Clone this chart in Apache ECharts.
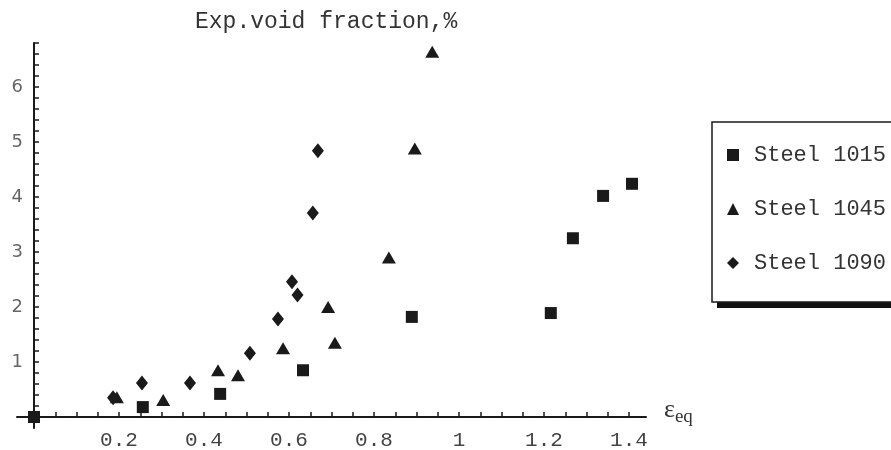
<!DOCTYPE html>
<html lang="en">

<head>
    <meta charset="UTF-8">
    <title>Exp. void fraction</title>
    <style>
        html, body { margin: 0; padding: 0; background: #fff; }
        .box { width: 891px; height: 450px; }
    </style>
    <script src="https://cdn.jsdelivr.net/npm/echarts@6/dist/echarts.min.js"></script>
</head>

<body>
    <div class="box"></div>
    <script>
        // data
        var steel1015X = [0, 0.256, 0.438, 0.633, 0.889, 1.216, 1.268, 1.339, 1.407];
        var steel1015Y = [0, 0.18, 0.42, 0.85, 1.82, 1.89, 3.25, 4.02, 4.24];
        var steel1045X = [0.195, 0.304, 0.433, 0.48, 0.586, 0.692, 0.708, 0.835, 0.896, 0.937];
        var steel1045Y = [0.36, 0.31, 0.85, 0.76, 1.25, 2.0, 1.35, 2.9, 4.88, 6.64];
        var steel1090X = [0.186, 0.254, 0.367, 0.508, 0.574, 0.607, 0.62, 0.656, 0.668];
        var steel1090Y = [0.35, 0.62, 0.62, 1.16, 1.78, 2.46, 2.22, 3.71, 4.84];

        var xLabels = [0.2, 0.4, 0.6, 0.8, 1, 1.2, 1.4];
        var yLabels = [1, 2, 3, 4, 5, 6];

        var mono = 'Liberation Mono';
        var ink = '#1a1a1a';

        function pairs(xs, ys) {
            return xs.map(function (x, i) { return [x, ys[i]]; });
        }

        // minor ticks
        var xTicks = [];
        for (var i = 1; i <= 28; i++) xTicks.push(Math.round(i * 5) / 100);
        var yTicks = [];
        for (var j = 1; j <= 34; j++) yTicks.push(Math.round(j * 2) / 10);

        var chart = echarts.init(document.querySelector('.box'));

        var option = {
            animation: false,
            title: {
                text: 'Exp.void fraction,%',
                left: 190,
                top: 5,
                textStyle: { fontFamily: mono, fontSize: 23, fontWeight: 'normal', color: '#333' }
            },
            // legend frame with its drop shadow
            graphic: [{
                type: 'rect',
                z: -1,
                shape: { x: 717, y: 128, width: 200, height: 180 },
                style: { fill: '#111' }
            }, {
                type: 'rect',
                z: -1,
                shape: { x: 712, y: 122, width: 200, height: 180 },
                style: { fill: '#fff', stroke: ink, lineWidth: 1.5 }
            }],
            legend: {
                orient: 'vertical',
                left: 712,
                top: 122,
                padding: [21, 40, 27, 15],
                itemWidth: 12,
                itemHeight: 12,
                itemGap: 30,
                textStyle: { fontFamily: mono, fontSize: 22, color: '#333', lineHeight: 24, padding: [0, 0, 0, 10] },
                data: ['Steel 1015', 'Steel 1045', 'Steel 1090']
            },
            grid: {
                left: 17,
                top: 43,
                width: 629,
                height: 385,
                outerBoundsMode: 'none'
            },
            xAxis: {
                type: 'value',
                min: -0.04,
                max: 1.44,
                splitLine: { show: false },
                axisLine: { onZero: true, lineStyle: { color: ink, width: 2 } },
                axisTick: { inside: true, length: 5, customValues: xTicks, lineStyle: { color: ink, width: 1.5 } },
                axisLabel: {
                    customValues: xLabels,
                    margin: 2,
                    fontFamily: mono,
                    fontSize: 21,
                    color: '#444'
                },
                name: '{e|ε}{s|eq}',
                nameLocation: 'end',
                nameGap: 18,
                nameTextStyle: {
                    rich: {
                        e: { fontFamily: 'Liberation Serif', fontSize: 26, color: '#333', padding: [0, 0, 14, 0] },
                        s: { fontFamily: 'Liberation Serif', fontSize: 19, color: '#333' }
                    }
                }
            },
            yAxis: {
                type: 'value',
                min: -0.2,
                max: 6.8,
                splitLine: { show: false },
                axisLine: { onZero: true, lineStyle: { color: ink, width: 2 } },
                axisTick: { inside: true, length: 5, customValues: yTicks, lineStyle: { color: ink, width: 1.5 } },
                axisLabel: {
                    customValues: yLabels,
                    margin: -6,
                    fontFamily: 'DejaVu Sans',
                    fontSize: 18,
                    color: '#666'
                }
            },
            series: [{
                name: 'Steel 1015',
                type: 'scatter',
                symbol: 'rect',
                symbolSize: 12,
                itemStyle: { color: ink, opacity: 1 },
                data: pairs(steel1015X, steel1015Y)
            }, {
                name: 'Steel 1045',
                type: 'scatter',
                symbol: 'triangle',
                symbolSize: [14, 12],
                itemStyle: { color: ink, opacity: 1 },
                data: pairs(steel1045X, steel1045Y)
            }, {
                name: 'Steel 1090',
                type: 'scatter',
                symbol: 'diamond',
                symbolSize: [12, 15],
                itemStyle: { color: ink, opacity: 1 },
                data: pairs(steel1090X, steel1090Y)
            }]
        };

        chart.setOption(option);
    </script>
</body>

</html>
